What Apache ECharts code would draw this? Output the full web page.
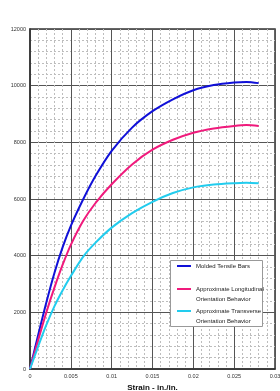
<!DOCTYPE html>
<html>
<head>
<meta charset="utf-8">
<script src="https://cdn.jsdelivr.net/npm/echarts@6/dist/echarts.min.js"></script>
<style>
  html, body { margin: 0; padding: 0; background: #fff; }
  #chart { width: 280px; height: 391px; }
</style>
</head>
<body>
<div id="chart"></div>
<script>
// tick labels
const xTickLabels = ['0', '0.005', '0.01', '0.015', '0.02', '0.025', '0.03'];
const yTickLabels = ['0', '2000', '4000', '6000', '8000', '10000', '12000'];

// series names and legend text
const seriesNames = ['Molded Tensile Bars', 'Approximate Longitudinal', 'Approximate Transverse'];
const legendLabels = [
  'Molded Tensile Bars',
  '\nApproximate Longitudinal\nOrientation Behavior',
  '\nApproximate Transverse\nOrientation Behavior'
];

// strain values (in./in.) where the curves were read
const strain = [0, 0.001, 0.002, 0.003, 0.004, 0.005, 0.0065, 0.008, 0.01,
  0.0125, 0.015, 0.0175, 0.02, 0.0225, 0.025, 0.0265, 0.028];

// stress (PSI) at those strains
const moldedBars = [0, 1200, 2350, 3400, 4300, 5050, 5980, 6800, 7700,
  8520, 9100, 9520, 9840, 10020, 10110, 10130, 10090];
const longitudinal = [0, 1020, 2000, 2880, 3680, 4380, 5220, 5850, 6520,
  7220, 7740, 8090, 8340, 8490, 8580, 8610, 8580];
const transverse = [0, 800, 1560, 2220, 2780, 3280, 3960, 4450, 4990,
  5500, 5900, 6210, 6410, 6510, 6560, 6575, 6555];

const colors = ['#1010d8', '#f01a7c', '#22ccee'];
const font = 'Arial, "Liberation Sans", sans-serif';

const chart = echarts.init(document.getElementById('chart'));

function legendFor(i, top) {
  return {
    data: [seriesNames[i]],
    left: 177,
    top: top,
    padding: 0,
    icon: 'rect',
    itemWidth: 14,
    itemHeight: 2,
    itemGap: 0,
    selectedMode: false,
    formatter: () => legendLabels[i],
    textStyle: { fontSize: 6, lineHeight: 10, color: '#222', fontFamily: font }
  };
}

const option = {
  animation: false,
  textStyle: { fontFamily: font },
  grid: {
    left: 30, right: 5, top: 29, bottom: 22,
    outerBoundsMode: 'none',
    show: true, borderColor: '#333', borderWidth: 1.5, backgroundColor: '#fff'
  },
  xAxis: {
    type: 'value',
    min: 0, max: 0.03, interval: 0.005,
    name: 'Strain - in./in.',
    nameLocation: 'middle',
    nameGap: 12,
    nameTextStyle: { fontSize: 8, fontWeight: 'bold', color: '#111', fontFamily: font },
    axisLine: { lineStyle: { color: '#333', width: 1.5 } },
    axisTick: { show: false },
    axisLabel: {
      fontSize: 5.5, color: '#333', margin: 4,
      formatter: (v, i) => xTickLabels[i]
    },
    splitLine: { lineStyle: { color: '#555', width: 1 } },
    minorTick: { show: false, splitNumber: 5 },
    minorSplitLine: { show: true, lineStyle: { color: '#bdbdbd', type: [2, 2] } }
  },
  yAxis: {
    type: 'value',
    min: 0, max: 12000, interval: 2000,
    name: 'Stress - PSI',
    nameLocation: 'middle',
    nameGap: 20,
    nameTextStyle: { fontSize: 8, fontWeight: 'bold', color: '#111', fontFamily: font },
    axisLine: { show: true, lineStyle: { color: '#333', width: 1.5 } },
    axisTick: { show: false },
    axisLabel: {
      fontSize: 5.5, color: '#333', margin: 4,
      formatter: (v, i) => yTickLabels[i]
    },
    splitLine: { lineStyle: { color: '#555', width: 1 } },
    minorTick: { show: false, splitNumber: 5 },
    minorSplitLine: { show: true, lineStyle: { color: '#bdbdbd', type: [2, 2] } }
  },
  graphic: {
    elements: [{
      type: 'rect', z: 3, left: 170, top: 260,
      shape: { width: 92, height: 66 },
      style: { fill: '#fff', stroke: '#999', lineWidth: 1 }
    }]
  },
  legend: [legendFor(0, 261), legendFor(1, 274), legendFor(2, 296)],
  series: [moldedBars, longitudinal, transverse].map((d, i) => ({
    name: seriesNames[i],
    type: 'line',
    data: d.map((y, k) => [strain[k], y]),
    smooth: 0.3,
    symbol: 'none',
    color: colors[i],
    lineStyle: { color: colors[i], width: 2 }
  }))
};

chart.setOption(option);
</script>
</body>
</html>
